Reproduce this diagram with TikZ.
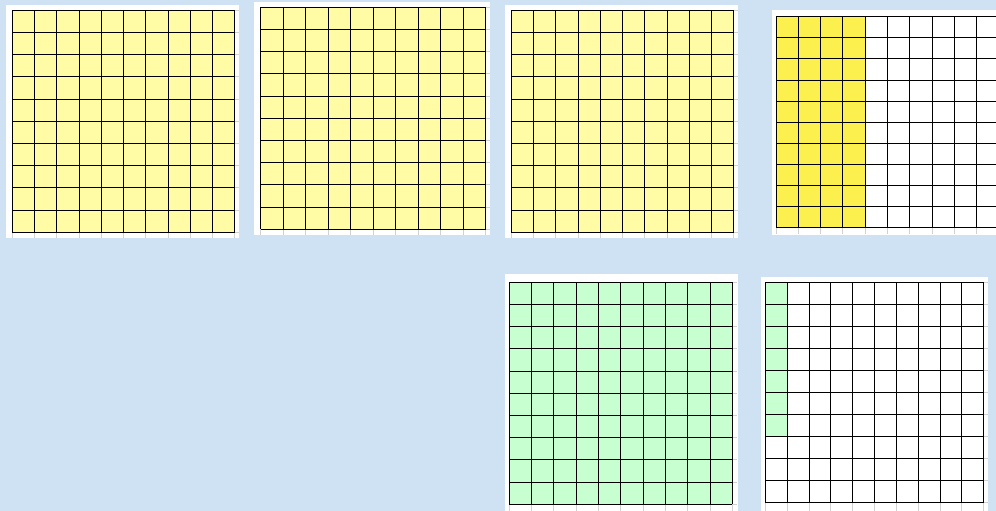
\documentclass[tikz,border=0pt]{standalone}
\definecolor{bgblue}{RGB}{207,226,243}
\definecolor{paleyellow}{RGB}{255,252,165}
\definecolor{brightyellow}{RGB}{251,240,77}
\definecolor{palegreen}{RGB}{200,255,208}
\tikzset{
  gridline/.style={draw=black,line width=0.9pt},
  tickline/.style={draw=black!18,line width=0.9pt},
  sheet/.style={fill=white},
}
\newcommand\hundredgrid[1]{%
  \foreach \i in {0,...,10} {\draw[tickline] (\i,10) -- (\i,10+#1); \draw[tickline] (10,\i) -- (10.2,\i);}
  \foreach \i in {0,...,10} {\draw[gridline] (\i,0) -- (\i,10); \draw[gridline] (0,\i) -- (10,\i);}
}
\begin{document}
\begin{tikzpicture}[x=1pt,y=-1pt]
\useasboundingbox (0,0) rectangle (996,511);
\clip (0,0) rectangle (996,511);
\fill[bgblue] (0,0) rectangle (996,511);
% sheets
\fill[sheet] (6,5) rectangle (239,238);
\fill[sheet] (254,2) rectangle (490,235);
\fill[sheet] (505,5) rectangle (738,238);
\fill[sheet] (772,10) rectangle (1000,235);
\fill[sheet] (505,274) rectangle (738,515);
\fill[sheet] (761,277) rectangle (988,515);
% grid 1
\begin{scope}[shift={(12.3,10.3)},x=22.24pt,y=-22.2pt]
  \fill[paleyellow] (0,0) rectangle (10,10);
  \hundredgrid{0.25}
\end{scope}
% grid 2
\begin{scope}[shift={(260.7,7.3)},x=22.5pt,y=-22.2pt]
  \fill[paleyellow] (0,0) rectangle (10,10);
  \hundredgrid{0.25}
\end{scope}
% grid 3
\begin{scope}[shift={(511.3,10.3)},x=22.24pt,y=-22.2pt]
  \fill[paleyellow] (0,0) rectangle (10,10);
  \hundredgrid{0.25}
\end{scope}
% grid 4
\begin{scope}[shift={(776,16.7)},x=22.3pt,y=-21.1pt]
  \fill[brightyellow] (0,0) rectangle (4,10);
  \hundredgrid{0.3}
\end{scope}
% grid 5
\begin{scope}[shift={(509.3,282.3)},x=22.3pt,y=-22.2pt]
  \fill[palegreen] (0,0) rectangle (10,10);
  \hundredgrid{0.5}
\end{scope}
% grid 6
\begin{scope}[shift={(765.3,282.3)},x=21.84pt,y=-22.0pt]
  \fill[palegreen] (0,0) rectangle (1,7);
  \hundredgrid{0.5}
\end{scope}
\end{tikzpicture}
\end{document}
